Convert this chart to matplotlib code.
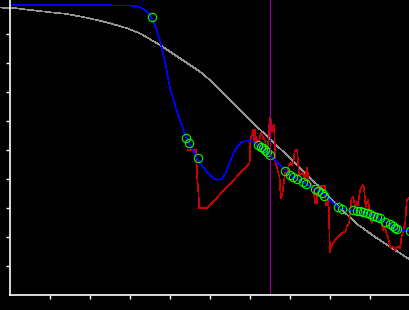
import matplotlib
matplotlib.use('Agg')
import matplotlib.pyplot as plt

# smooth reference curve (gray)
ref_x = [-0.25, 0.125, 0.5, 1.0, 1.425, 1.925, 2.425, 2.925, 3.25, 3.75, 4.25, 4.75, 5.0,
         5.5, 6.0, 6.5, 7.0, 7.5, 7.75, 8.25, 8.675, 9.125, 9.625, 10.0]
ref_y = [9.91, 9.89, 9.83, 9.75, 9.69, 9.56, 9.40, 9.20, 9.02, 8.62, 8.16, 7.70, 7.41,
         6.72, 6.03, 5.38, 4.72, 4.03, 3.72, 3.00, 2.45, 2.00, 1.55, 1.22]

# model curve (blue)
fit_x = [0, 1.25, 2.5, 3.0, 3.2, 3.375, 3.5, 3.625, 3.75, 3.875, 4.0, 4.125, 4.25, 4.4, 4.5,
         4.675, 4.825, 4.95, 5.075, 5.2, 5.3, 5.4, 5.5, 5.6, 5.7, 5.8, 5.95, 6.1, 6.2, 6.375,
         6.5, 6.7, 6.875, 7.075, 7.25, 7.4, 7.65, 7.85, 8.0, 8.2, 8.3, 8.45, 8.65, 8.825, 9.0,
         9.175, 9.375, 9.575, 9.675, 9.8, 10.0]
fit_y = [9.99, 9.99, 9.99, 9.98, 9.95, 9.83, 9.66, 9.31, 8.79, 8.03, 7.14, 6.55, 6.03, 5.45, 5.17,
         4.72, 4.41, 4.21, 4.03, 3.97, 4.00, 4.24, 4.59, 4.93, 5.14, 5.28, 5.31, 5.28, 5.17, 5.00,
         4.83, 4.55, 4.29, 4.06, 3.95, 3.83, 3.66, 3.47, 3.28, 3.03, 2.97, 2.93, 2.91, 2.87, 2.79,
         2.69, 2.53, 2.38, 2.26, 2.21, 2.21]

# sample points (green circles)
pts_x = [3.55, 4.41, 4.475, 4.69, 6.21, 6.27, 6.33, 6.375, 6.42, 6.5, 6.875, 7.0, 7.08, 7.17,
         7.33, 7.41, 7.625, 7.71, 7.79, 7.86, 8.21, 8.29, 8.58, 8.67, 8.75, 8.83, 8.92, 9.0,
         9.08, 9.17, 9.25, 9.375, 9.5, 9.58, 9.625, 9.67, 9.99]
pts_y = [9.59, 5.41, 5.24, 4.71, 5.17, 5.11, 5.06, 5.00, 4.94, 4.84, 4.29, 4.14, 4.06, 3.99,
         3.90, 3.82, 3.67, 3.57, 3.51, 3.43, 3.02, 2.96, 2.92, 2.91, 2.90, 2.87, 2.84, 2.79,
         2.73, 2.70, 2.64, 2.53, 2.44, 2.38, 2.32, 2.27, 2.21]

# raw signal (red)
raw_x = [4.45, 4.65, 4.66, 4.68, 4.71, 4.73, 4.93, 5.99, 6.01, 6.08, 6.1, 6.13, 6.16, 6.18,
         6.22, 6.28, 6.33, 6.38, 6.41, 6.43, 6.47, 6.49, 6.52, 6.55, 6.58, 6.6, 6.62, 6.63,
         6.66, 6.68, 6.74, 6.77, 6.8, 6.83, 6.85, 6.88, 6.93, 6.97, 7.02, 7.05, 7.08, 7.12,
         7.14, 7.18, 7.2, 7.23, 7.25, 7.33, 7.38, 7.42, 7.44, 7.45, 7.54, 7.58, 7.63, 7.67,
         7.69, 7.75, 7.88, 7.89, 7.92, 7.96, 8.0, 8.04, 8.17, 8.29, 8.38, 8.42, 8.48, 8.5,
         8.54, 8.58, 8.63, 8.68, 8.7, 8.75, 8.81, 8.85, 8.89, 8.95, 9.0, 9.04, 9.08, 9.13,
         9.2, 9.29, 9.33, 9.38, 9.42, 9.45, 9.5, 9.58, 9.63, 9.67, 9.75, 9.79, 9.88, 9.92,
         9.96, 10.0]
raw_y = [5.0, 5.0, 4.72, 4.03, 3.55, 3.0, 3.0, 4.55, 5.34, 5.69, 5.34, 5.69, 5.17, 5.34,
         5.31, 5.59, 5.41, 5.31, 4.97, 4.83, 5.52, 6.10, 6.03, 5.66, 5.83, 5.86, 5.17, 4.62,
         4.45, 4.38, 4.03, 3.34, 3.41, 3.69, 3.97, 4.21, 4.14, 4.48, 4.55, 4.48, 4.55, 4.97,
         5.0, 5.0, 4.55, 4.14, 4.14, 4.21, 3.97, 4.38, 4.31, 3.97, 3.79, 3.72, 3.17, 3.17,
         3.62, 3.76, 3.76, 3.10, 3.10, 3.34, 1.49, 1.72, 1.97, 2.14, 2.18, 2.36, 2.48, 2.83,
         3.34, 3.38, 3.03, 3.21, 3.10, 3.62, 3.79, 3.72, 3.03, 3.28, 2.83, 2.48, 2.59, 2.76,
         2.69, 2.48, 2.24, 2.31, 2.07, 2.0, 1.66, 1.66, 1.55, 1.66, 1.62, 2.0, 2.48, 3.28,
         3.34, 3.34]

marker_x = 6.51

plt.rcParams['lines.antialiased'] = False

fig = plt.figure(figsize=(4.1, 3.1), dpi=100, facecolor='black')
ax = fig.add_axes([10 / 410, 15 / 310, 400 / 410, 295 / 310], facecolor='black')

ax.plot(ref_x, ref_y, color='#969696', lw=0.45, clip_on=False)
ax.plot(raw_x, raw_y, color='#cc0000', lw=0.45)
ax.plot(fit_x, fit_y, color='#0000ff', lw=0.45)
ax.plot(pts_x, pts_y, 'o', mfc='none', mec='#00ff00', ms=6, mew=0.8, antialiased=True)
ax.axvline(marker_x, color='#990099', lw=0.6)

ax.set_xlim(0, 10)
ax.set_ylim(0, 295 / 29)
ax.set_xticks(range(1, 11))
ax.set_yticks(range(1, 10))
ax.tick_params(colors='white', length=3, width=1, labelbottom=False, labelleft=False)
for side in ['top', 'right']:
    ax.spines[side].set_visible(False)
for side in ['left', 'bottom']:
    ax.spines[side].set_color('white')
    ax.spines[side].set_linewidth(1.2)

fig.savefig('out.png', dpi=100, facecolor='black')
